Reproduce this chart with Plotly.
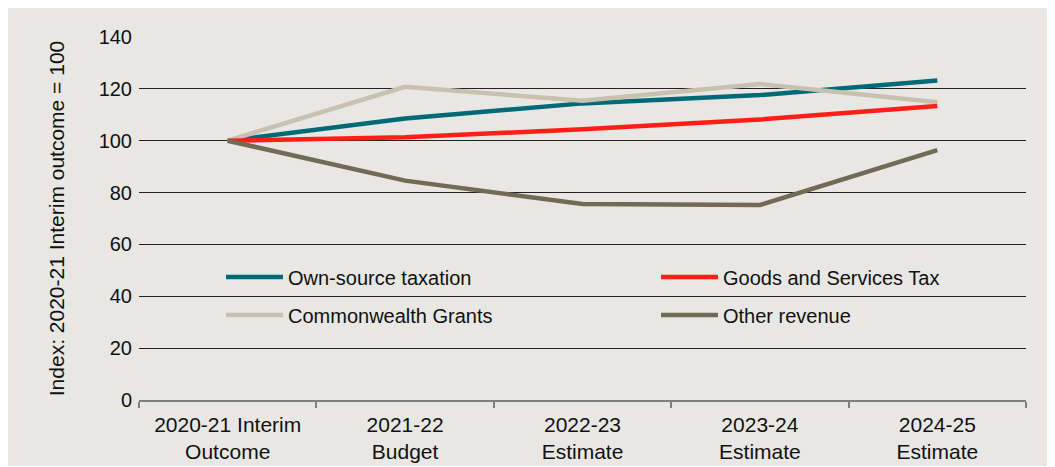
import plotly.graph_objects as go

categories = ["2020-21 Interim<br>Outcome", "2021-22<br>Budget", "2022-23<br>Estimate",
              "2023-24<br>Estimate", "2024-25<br>Estimate"]
own_source = [100, 108.6, 114.4, 117.6, 123.2]
gst = [100, 101.3, 104.4, 108.2, 113.4]
cw_grants = [100, 120.8, 115.4, 121.9, 114.8]
other_rev = [100, 84.6, 75.6, 75.2, 96.4]
y_ticks = [0, 20, 40, 60, 80, 100, 120, 140]

FONT = "Liberation Sans, Arial, sans-serif"
BG = "#E8E7E3"

# page has an 8px body margin; figure coordinates are page coordinates minus 8
OFF = 8
W, H = 1045, 458
ML, MR, MT, MB = 131, 27, 29, 66
PW, PH = W - ML - MR, H - MT - MB

def px_x(p):
    return (p - OFF - ML) / PW

def px_y(p):
    return (H - MB - (p - OFF)) / PH

fig = go.Figure()
# draw order: teal, grants, red, other (bottom -> top)
fig.add_trace(go.Scatter(x=categories, y=own_source, mode="lines", name="Own-source taxation",
                         line=dict(color="#006B78", width=4.5), legend="legend"))
fig.add_trace(go.Scatter(x=categories, y=cw_grants, mode="lines", name="Commonwealth Grants",
                         line=dict(color="#C8C1AF", width=4.5), legend="legend3"))
fig.add_trace(go.Scatter(x=categories, y=gst, mode="lines", name="Goods and Services Tax",
                         line=dict(color="#FF1E16", width=4.5), legend="legend2"))
fig.add_trace(go.Scatter(x=categories, y=other_rev, mode="lines", name="Other revenue",
                         line=dict(color="#736A55", width=4.5), legend="legend4"))

legend_common = dict(orientation="h", xanchor="left", yanchor="middle",
                     bgcolor="rgba(0,0,0,0)", borderwidth=0,
                     font=dict(family=FONT, size=20, color="#111111"),
                     itemwidth=57)

fig.update_layout(
    width=W, height=H,
    margin=dict(l=ML, r=MR, t=MT, b=MB, autoexpand=False),
    paper_bgcolor=BG,
    plot_bgcolor=BG,
    font=dict(family=FONT, size=20, color="#111111"),
    showlegend=True,
    legend=dict(x=px_x(221), y=px_y(277), **legend_common),
    legend2=dict(x=px_x(656), y=px_y(277), **legend_common),
    legend3=dict(x=px_x(221), y=px_y(315), **legend_common),
    legend4=dict(x=px_x(656), y=px_y(315), **legend_common),
    xaxis=dict(
        type="category",
        range=[-0.5, 4.5],
        automargin=False,
        showgrid=False,
        showline=True, linecolor="#7F7F7F", linewidth=1.5,
        ticks="outside", tickson="boundaries", ticklen=6, tickcolor="#7F7F7F", tickwidth=1.5,
        ticklabelstandoff=5,
        tickfont=dict(family=FONT, size=21, color="#111111"),
        zeroline=False,
    ),
    yaxis=dict(
        range=[0, 140],
        automargin=False,
        tickvals=y_ticks,
        showgrid=True, gridcolor="#222222", gridwidth=1,
        zeroline=False, showline=False,
        ticks="", ticklabelstandoff=6,
        tickfont=dict(family=FONT, size=20, color="#111111"),
        title=dict(text="Index: 2020-21 Interim outcome = 100",
                   font=dict(family=FONT, size=21, color="#111111"), standoff=28),
    ),
)

fig.write_html("out.html")
